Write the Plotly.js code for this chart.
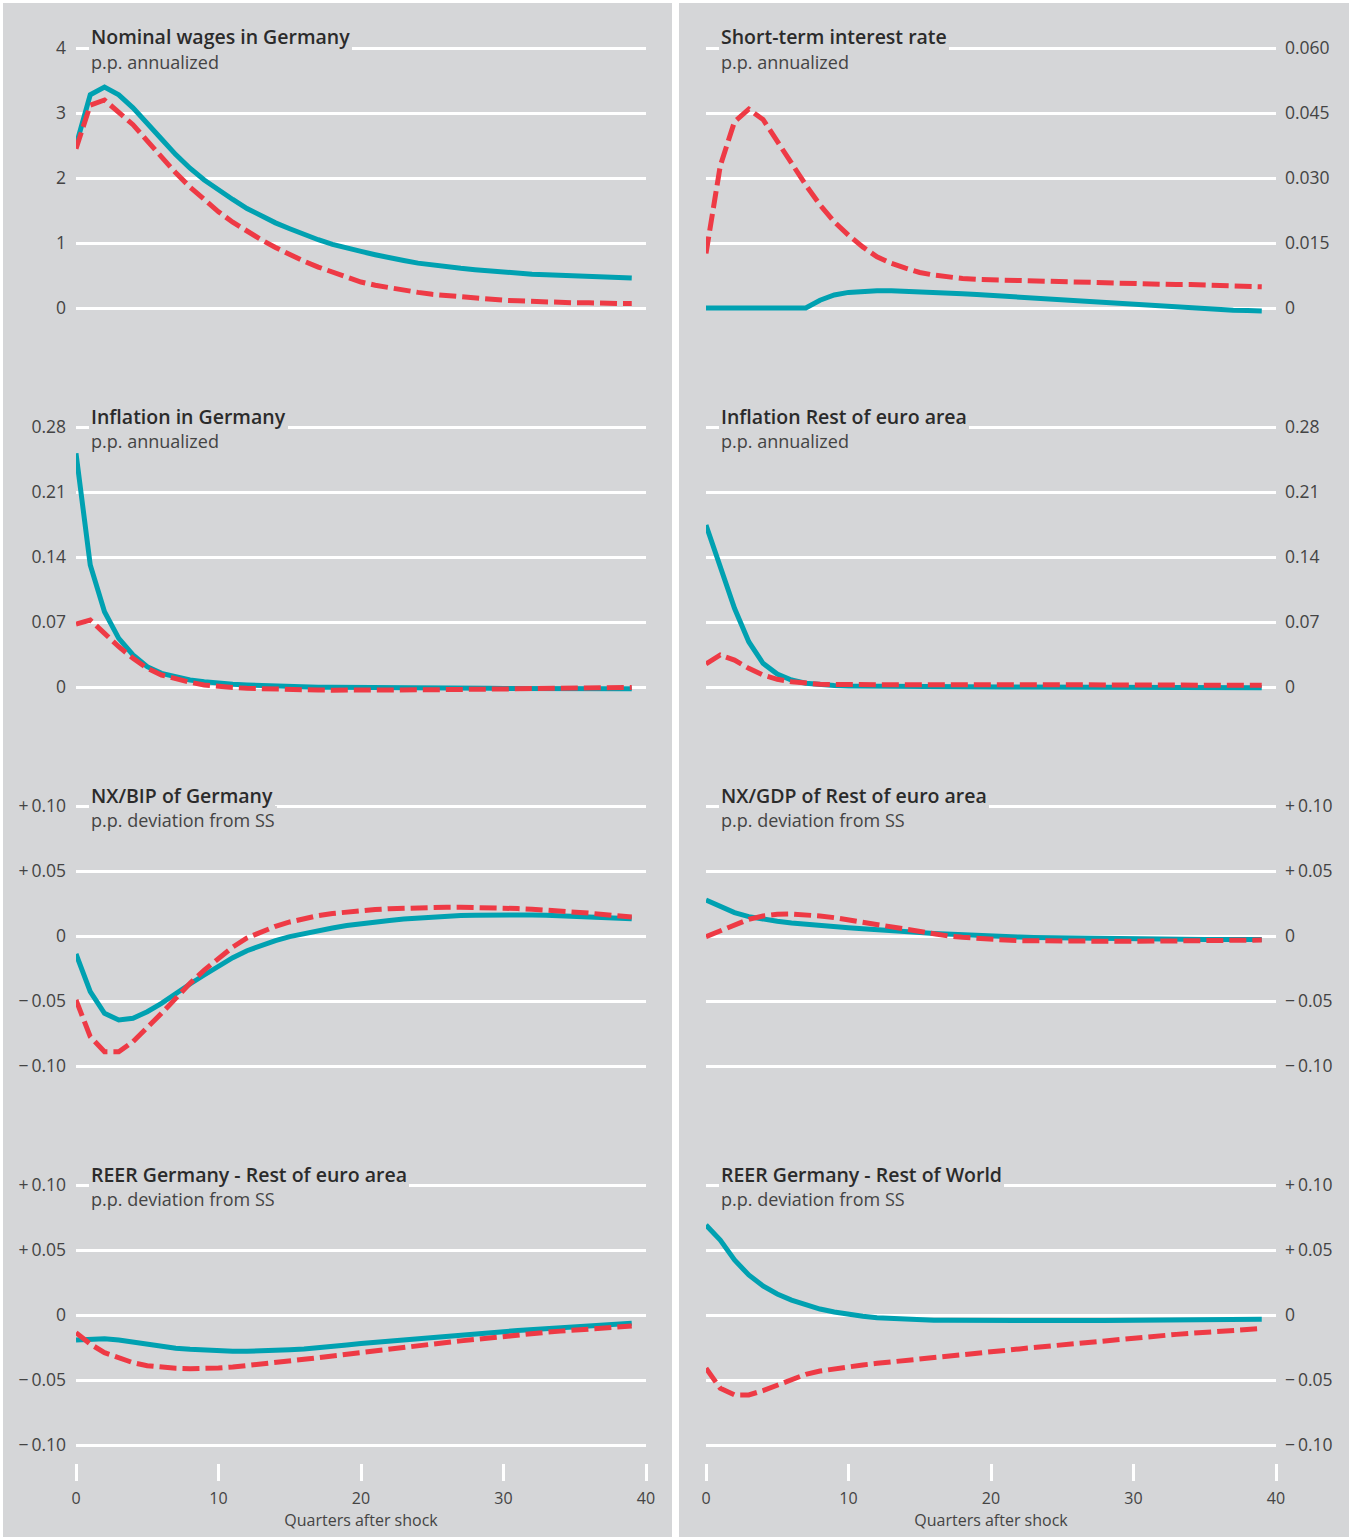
<!DOCTYPE html>
<html>
<head>
<meta charset="utf-8">
<script src="https://cdn.plot.ly/plotly-3.0.1.min.js"></script>
<style>
  html, body { margin: 0; padding: 0; background: #ffffff; }
  #chart { width: 1351px; height: 1539px; }
</style>
</head>
<body>
<div id="chart"></div>
<script>
// ---------------- DATA ----------------
const quarters = [0,1,2,3,4,5,6,7,8,9,10,11,12,13,14,15,16,17,18,19,20,21,22,23,24,25,26,27,28,29,30,31,32,33,34,35,36,37,38,39];
const xTickVals = [0, 10, 20, 30, 40];
const xTickText = ['0', '10', '20', '30', '40'];
const xAxisLabel = 'Quarters after shock';

const panelTitles = [
  'Nominal wages in Germany', 'Short-term interest rate',
  'Inflation in Germany', 'Inflation Rest of euro area',
  'NX/BIP of Germany', 'NX/GDP of Rest of euro area',
  'REER Germany - Rest of euro area', 'REER Germany - Rest of World'
];
const panelUnits = [
  'p.p. annualized', 'p.p. annualized',
  'p.p. annualized', 'p.p. annualized',
  'p.p. deviation from SS', 'p.p. deviation from SS',
  'p.p. deviation from SS', 'p.p. deviation from SS'
];

const wageTicks = [0, 1, 2, 3, 4];
const wageTickText = ['0', '1', '2', '3', '4'];
const rateTicks = [0, 0.015, 0.03, 0.045, 0.06];
const rateTickText = ['0', '0.015', '0.030', '0.045', '0.060'];
const inflTicks = [0, 0.07, 0.14, 0.21, 0.28];
const inflTickText = ['0', '0.07', '0.14', '0.21', '0.28'];
const devTicks = [-0.10, -0.05, 0, 0.05, 0.10];
const devTickText = ['\u2212\u20090.10', '\u2212\u20090.05', '0', '+\u20090.05', '+\u20090.10'];

// solid (teal) and dashed (red) responses
const wagesSolid = [2.50,3.28,3.40,3.28,3.08,2.85,2.60,2.36,2.15,1.97,1.81,1.67,1.53,1.41,1.31,1.22,1.13,1.05,0.98,0.92,0.87,0.82,0.77,0.73,0.69,0.66,0.63,0.61,0.59,0.57,0.55,0.53,0.52,0.51,0.50,0.49,0.48,0.47,0.47,0.46];
const wagesDashed = [2.45,3.12,3.20,3.02,2.82,2.57,2.32,2.08,1.86,1.66,1.48,1.32,1.18,1.05,0.93,0.82,0.72,0.63,0.55,0.46,0.40,0.35,0.31,0.27,0.24,0.21,0.19,0.17,0.15,0.14,0.12,0.11,0.10,0.09,0.09,0.08,0.08,0.07,0.07,0.07];

const rateSolid = [0,0,0,0,0,0,0,0,0.0018,0.0030,0.0036,0.0039,0.0040,0.0040,0.0039,0.0038,0.0036,0.0035,0.0033,0.0031,0.0029,0.0027,0.0025,0.0022,0.0020,0.0017,0.0015,0.0013,0.0011,0.0009,0.0007,0.0005,0.0003,0.0001,0.0000,-0.0002,-0.0003,-0.0005,-0.0006,-0.0007];
const rateDashed = [0.0126,0.0328,0.0430,0.0459,0.0435,0.0384,0.0334,0.0284,0.0238,0.0199,0.0168,0.0141,0.0118,0.0103,0.0092,0.0082,0.0076,0.0071,0.0068,0.0066,0.0065,0.0064,0.0063,0.0062,0.0062,0.0061,0.0060,0.0059,0.0058,0.0058,0.0057,0.0056,0.0055,0.0054,0.0054,0.0053,0.0052,0.0051,0.0050,0.0049];

const inflDeSolid = [0.2516,0.1314,0.0811,0.0524,0.0345,0.0219,0.0147,0.0104,0.0075,0.0057,0.0040,0.0030,0.0022,0.0015,0.0009,0.0004,0.0001,-0.0002,-0.0004,-0.0006,-0.0008,-0.0009,-0.0010,-0.0011,-0.0012,-0.0012,-0.0013,-0.0013,-0.0014,-0.0014,-0.0015,-0.0015,-0.0016,-0.0016,-0.0016,-0.0017,-0.0017,-0.0017,-0.0018,-0.0018];
const inflDeDashed = [0.0678,0.0721,0.0578,0.0434,0.0309,0.0201,0.0129,0.0083,0.0051,0.0022,0.0004,-0.0006,-0.0014,-0.0020,-0.0025,-0.0029,-0.0032,-0.0033,-0.0034,-0.0035,-0.0035,-0.0035,-0.0034,-0.0033,-0.0032,-0.0030,-0.0028,-0.0026,-0.0024,-0.0022,-0.0020,-0.0018,-0.0016,-0.0014,-0.0012,-0.0010,-0.0009,-0.0007,-0.0006,-0.0005];

const inflReaSolid = [0.1744,0.1296,0.0847,0.0488,0.0255,0.0140,0.0075,0.0040,0.0022,0.0015,0.0010,0.0008,0.0007,0.0006,0.0005,0.0004,0.0004,0.0003,0.0003,0.0002,0.0002,0.0001,0.0001,0.0000,0.0000,-0.0001,-0.0001,-0.0002,-0.0002,-0.0003,-0.0003,-0.0004,-0.0004,-0.0005,-0.0005,-0.0006,-0.0006,-0.0007,-0.0007,-0.0008];
const inflReaDashed = [0.0248,0.0345,0.0290,0.0201,0.0129,0.0083,0.0057,0.0040,0.0029,0.0026,0.0025,0.0025,0.0025,0.0025,0.0025,0.0025,0.0025,0.0025,0.0025,0.0025,0.0025,0.0025,0.0025,0.0024,0.0024,0.0024,0.0024,0.0023,0.0023,0.0023,0.0022,0.0022,0.0022,0.0021,0.0021,0.0020,0.0020,0.0019,0.0019,0.0018];

const nxDeSolid = [-0.0138,-0.0428,-0.0595,-0.0646,-0.0633,-0.0582,-0.0518,-0.0441,-0.0369,-0.0300,-0.0231,-0.0167,-0.0113,-0.0070,-0.0035,-0.0005,0.0020,0.0042,0.0062,0.0080,0.0095,0.0108,0.0120,0.0130,0.0139,0.0146,0.0152,0.0157,0.0160,0.0162,0.0163,0.0163,0.0162,0.0160,0.0157,0.0153,0.0148,0.0143,0.0138,0.0133];
const nxDeDashed = [-0.0492,-0.0774,-0.0890,-0.0890,-0.0813,-0.0710,-0.0595,-0.0480,-0.0364,-0.0262,-0.0172,-0.0085,-0.0015,0.0035,0.0075,0.0108,0.0135,0.0157,0.0173,0.0186,0.0196,0.0204,0.0210,0.0215,0.0218,0.0220,0.0221,0.0221,0.0220,0.0218,0.0215,0.0211,0.0206,0.0200,0.0193,0.0185,0.0176,0.0166,0.0156,0.0146];

const nxReaSolid = [0.0277,0.0226,0.0180,0.0149,0.0128,0.0113,0.0100,0.0089,0.0079,0.0071,0.0064,0.0055,0.0046,0.0040,0.0033,0.0027,0.0020,0.0014,0.0008,0.0004,0.0000,-0.0004,-0.0008,-0.0011,-0.0013,-0.0015,-0.0017,-0.0018,-0.0020,-0.0021,-0.0023,-0.0024,-0.0024,-0.0025,-0.0025,-0.0026,-0.0026,-0.0026,-0.0026,-0.0026];
const nxReaDashed = [-0.0005,0.0041,0.0090,0.0128,0.0154,0.0167,0.0169,0.0164,0.0154,0.0141,0.0123,0.0108,0.0087,0.0067,0.0046,0.0031,0.0015,0.0000,-0.0010,-0.0020,-0.0026,-0.0031,-0.0036,-0.0038,-0.0040,-0.0041,-0.0041,-0.0041,-0.0041,-0.0041,-0.0041,-0.0040,-0.0039,-0.0038,-0.0037,-0.0036,-0.0035,-0.0033,-0.0032,-0.0031];

const reerReaSolid = [-0.0192,-0.0185,-0.0182,-0.0192,-0.0210,-0.0228,-0.0244,-0.0256,-0.0264,-0.0272,-0.0277,-0.0279,-0.0279,-0.0277,-0.0272,-0.0267,-0.0261,-0.0254,-0.0243,-0.0231,-0.0220,-0.0210,-0.0200,-0.0190,-0.0181,-0.0172,-0.0163,-0.0155,-0.0146,-0.0137,-0.0128,-0.0120,-0.0112,-0.0105,-0.0098,-0.0091,-0.0085,-0.0078,-0.0071,-0.0064];
const reerReaDashed = [-0.0136,-0.0223,-0.0290,-0.0333,-0.0367,-0.0390,-0.0403,-0.0410,-0.0413,-0.0413,-0.0408,-0.0400,-0.0390,-0.0379,-0.0367,-0.0354,-0.0341,-0.0328,-0.0314,-0.0300,-0.0287,-0.0275,-0.0262,-0.0249,-0.0236,-0.0223,-0.0211,-0.0199,-0.0187,-0.0175,-0.0162,-0.0152,-0.0142,-0.0133,-0.0124,-0.0116,-0.0108,-0.0100,-0.0092,-0.0085];

const reerRowSolid = [0.0692,0.0577,0.0423,0.0308,0.0223,0.0162,0.0115,0.0077,0.0046,0.0023,0.0005,-0.0010,-0.0021,-0.0028,-0.0033,-0.0038,-0.0040,-0.0041,-0.0042,-0.0043,-0.0044,-0.0044,-0.0044,-0.0044,-0.0044,-0.0044,-0.0043,-0.0043,-0.0042,-0.0042,-0.0041,-0.0041,-0.0040,-0.0039,-0.0039,-0.0038,-0.0037,-0.0036,-0.0035,-0.0033];
const reerRowDashed = [-0.0410,-0.0564,-0.0615,-0.0615,-0.0582,-0.0538,-0.0495,-0.0456,-0.0431,-0.0413,-0.0397,-0.0384,-0.0372,-0.0360,-0.0349,-0.0338,-0.0327,-0.0316,-0.0305,-0.0294,-0.0283,-0.0272,-0.0261,-0.0250,-0.0239,-0.0228,-0.0217,-0.0206,-0.0195,-0.0184,-0.0173,-0.0165,-0.0157,-0.0149,-0.0141,-0.0133,-0.0125,-0.0118,-0.0111,-0.0104];

// ---------------- LAYOUT / STYLE ----------------
const W = 1351, H = 1539;
const BG = '#d5d6d8';
const TEAL = '#00a1b1';
const RED = '#ee3a45';
const FONT = 'Open Sans, Noto Sans, sans-serif';

const panels = [
  {a: wagesSolid,   b: wagesDashed,   tv: wageTicks, tt: wageTickText},
  {a: rateSolid,    b: rateDashed,    tv: rateTicks, tt: rateTickText},
  {a: inflDeSolid,  b: inflDeDashed,  tv: inflTicks, tt: inflTickText},
  {a: inflReaSolid, b: inflReaDashed, tv: inflTicks, tt: inflTickText},
  {a: nxDeSolid,    b: nxDeDashed,    tv: devTicks,  tt: devTickText},
  {a: nxReaSolid,   b: nxReaDashed,   tv: devTicks,  tt: devTickText},
  {a: reerReaSolid, b: reerReaDashed, tv: devTicks,  tt: devTickText},
  {a: reerRowSolid, b: reerRowDashed, tv: devTicks,  tt: devTickText}
];

const colX = [[76, 646], [706, 1276]];
const rowTop0 = 48, rowStep = 379, rowSpan = 260;
const padTop = 12, padBot = 18;

const data = [];
const layout = {
  width: W, height: H,
  margin: {l: 0, r: 0, t: 0, b: 0},
  paper_bgcolor: '#ffffff',
  plot_bgcolor: 'rgba(0,0,0,0)',
  showlegend: false,
  hovermode: false,
  font: {family: FONT, color: '#444444'},
  shapes: [
    {type: 'rect', xref: 'paper', yref: 'paper', x0: 3 / W, x1: 672 / W, y0: 1 - 1537 / H, y1: 1 - 3 / H, fillcolor: BG, line: {width: 0}, layer: 'below'},
    {type: 'rect', xref: 'paper', yref: 'paper', x0: 679 / W, x1: 1349 / W, y0: 1 - 1537 / H, y1: 1 - 3 / H, fillcolor: BG, line: {width: 0}, layer: 'below'}
  ],
  annotations: []
};

const subNotes = [], titleNotes = [];

panels.forEach((p, i) => {
  const row = Math.floor(i / 2), col = i % 2, n = i + 1;
  const sfx = n === 1 ? '' : String(n);
  const top = rowTop0 + row * rowStep, bot = top + rowSpan;
  const tmin = Math.min(...p.tv), tmax = Math.max(...p.tv);
  const perPx = (tmax - tmin) / rowSpan;
  const isBottom = row === 3;

  layout['xaxis' + sfx] = {
    domain: [colX[col][0] / W, colX[col][1] / W],
    range: [0, 40],
    anchor: 'y' + sfx,
    showgrid: false, zeroline: false, showline: false,
    tickvals: xTickVals, ticktext: xTickText,
    ticks: isBottom ? 'outside' : '',
    ticklen: 17, tickwidth: 3, tickcolor: '#ffffff',
    showticklabels: isBottom,
    ticklabelstandoff: 4,
    tickfont: {family: FONT, size: 16, color: '#444444'},
    title: isBottom ? {text: xAxisLabel, font: {family: FONT, size: 16, color: '#444444'}, standoff: 6} : {text: ''},
    fixedrange: true
  };
  layout['yaxis' + sfx] = {
    domain: [1 - (bot + padBot) / H, 1 - (top - padTop) / H],
    range: [tmin - padBot * perPx, tmax + padTop * perPx],
    anchor: 'x' + sfx,
    side: col === 0 ? 'left' : 'right',
    tickvals: p.tv, ticktext: p.tt,
    ticks: '',
    showgrid: true, gridcolor: '#ffffff', gridwidth: 3,
    zeroline: false, showline: false,
    ticklabelstandoff: col === 0 ? 9 : 8,
    tickfont: {family: FONT, size: 17.5, color: '#444444'},
    fixedrange: true
  };

  data.push({
    x: quarters, y: p.a, xaxis: 'x' + sfx, yaxis: 'y' + sfx,
    type: 'scatter', mode: 'lines',
    line: {color: TEAL, width: 5, shape: 'linear'}
  });
  data.push({
    x: quarters, y: p.b, xaxis: 'x' + sfx, yaxis: 'y' + sfx,
    type: 'scatter', mode: 'lines',
    line: {color: RED, width: 5, dash: '17px,6px', shape: 'linear'}
  });

  const ax = (col === 0 ? 89 : 719) / W;
  const titleY = top - 11, subY = top + 14;
  titleNotes.push({
    xref: 'paper', yref: 'paper', x: ax, y: 1 - titleY / H,
    xanchor: 'left', yanchor: 'middle', showarrow: false,
    text: panelTitles[i], bgcolor: BG, borderpad: 2, borderwidth: 0,
    font: {family: FONT, size: 19.5, weight: 600, color: '#2b2b2b'}
  });
  subNotes.push({
    xref: 'paper', yref: 'paper', x: ax, y: 1 - subY / H,
    xanchor: 'left', yanchor: 'middle', showarrow: false,
    text: panelUnits[i], bgcolor: BG, borderpad: 2, borderwidth: 0,
    font: {family: FONT, size: 18, color: '#444444'}
  });
});
// subtitles first, titles on top
layout.annotations = subNotes.concat(titleNotes);

Plotly.newPlot('chart', data, layout, {staticPlot: true, displayModeBar: false});
</script>
</body>
</html>
